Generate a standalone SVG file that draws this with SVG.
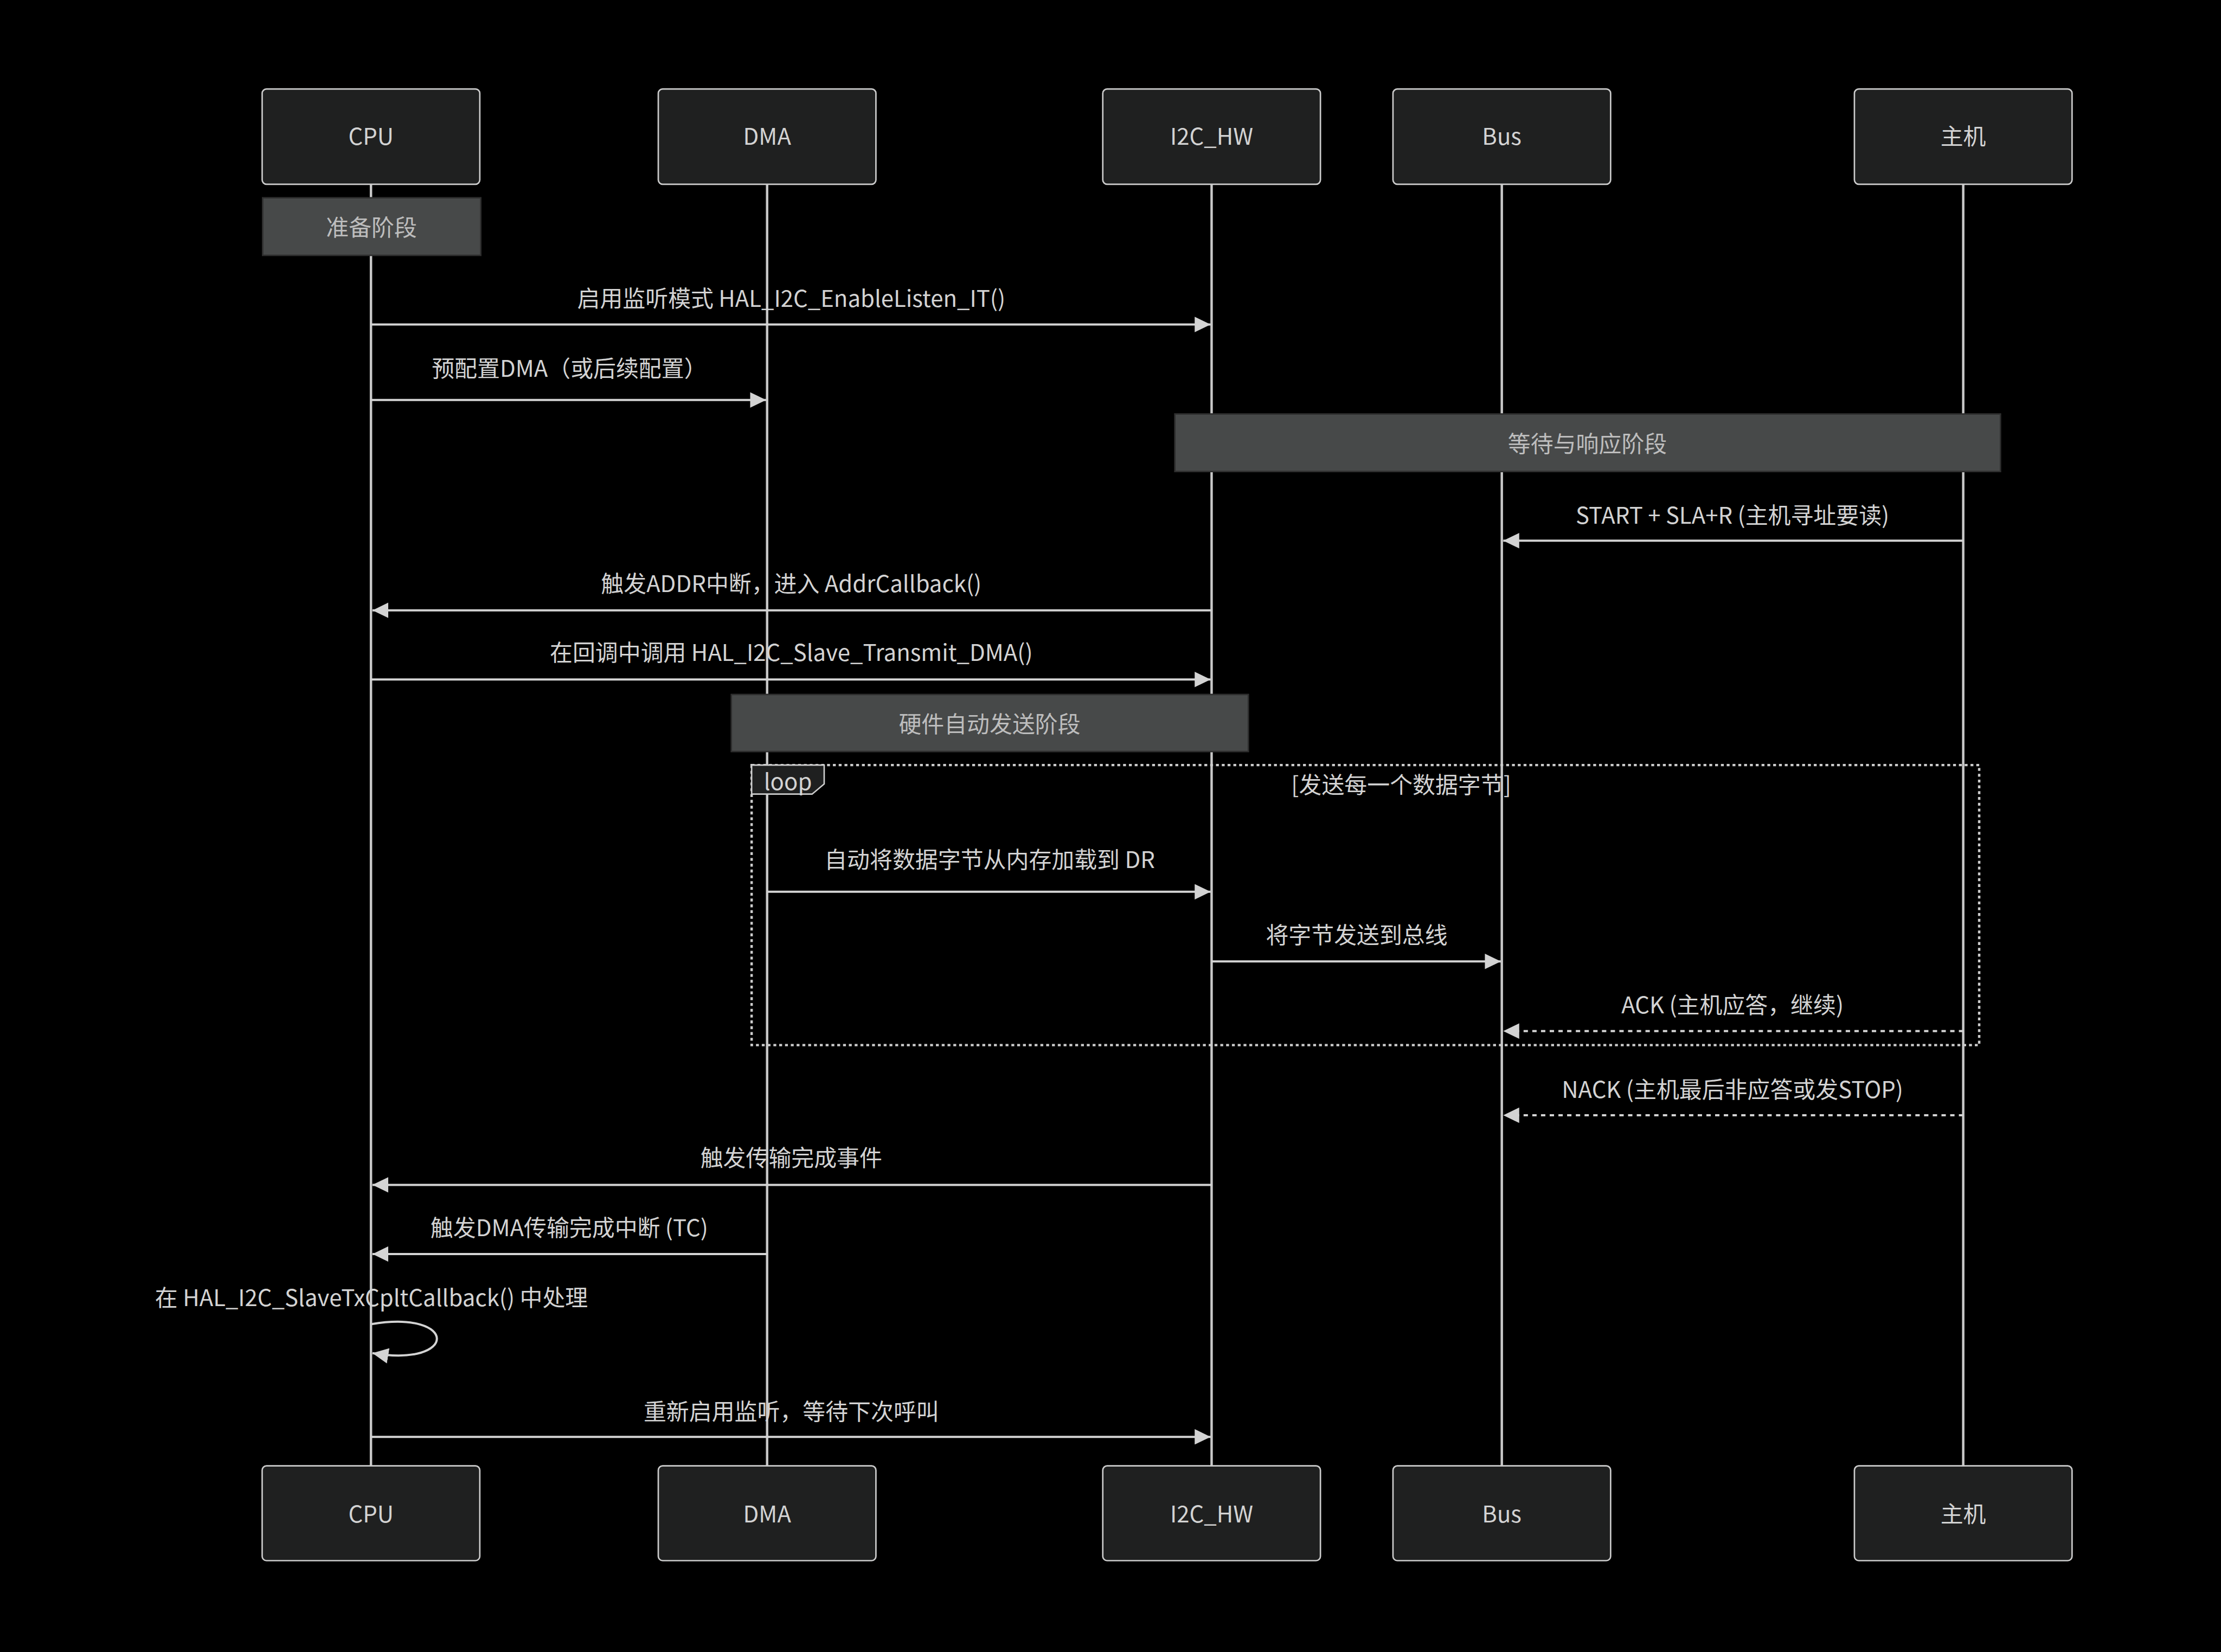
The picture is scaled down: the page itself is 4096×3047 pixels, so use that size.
<svg xmlns="http://www.w3.org/2000/svg" width="4096" height="3047" viewBox="0 0 4096 3047">
<defs>
<style>
.actor rect{fill:#1f2020;stroke:#cccccc;stroke-width:3}
.actor text{fill:#d3d3d3}
text{font-family:"Noto Sans CJK SC","Noto Sans",sans-serif;font-size:47px;text-anchor:middle;dominant-baseline:central}
.life{stroke:#c8c8c8;stroke-width:5}
.msg{stroke:#d3d3d3;stroke-width:4.5;fill:none;marker-end:url(#arr)}
.dash{stroke-dasharray:9 9}
.mtext{fill:#d3d3d3}
.note rect{fill:#474949;stroke:#2e2e2e;stroke-width:3}
.note text{fill:#bdbdbd}
.loopline{fill:none;stroke:#cccccc;stroke-width:5;stroke-dasharray:6 6}
.labelbox{fill:#1f2020;stroke:#cccccc;stroke-width:3}
</style>
<marker id="arr" markerUnits="userSpaceOnUse" viewBox="0 0 33 32" refX="33" refY="16" markerWidth="33" markerHeight="32" orient="auto">
<path d="M0,0 L33,16 L0,32 z" fill="#d3d3d3"/>
</marker>
</defs>
<rect x="0" y="0" width="4096" height="3047" fill="#000000"/>
<g transform="scale(0.892)">
<g id="lifelines">
<line class="life" x1="767" y1="381" x2="767" y2="3031"/>
<line class="life" x1="1586" y1="381" x2="1586" y2="3031"/>
<line class="life" x1="2505" y1="381" x2="2505" y2="3031"/>
<line class="life" x1="3105" y1="381" x2="3105" y2="3031"/>
<line class="life" x1="4059" y1="381" x2="4059" y2="3031"/>
</g>
<g id="actor-cpu-top" class="actor"><rect x="542" y="184" width="450" height="197" rx="9"/><text x="767" y="279">CPU</text></g>
<g id="actor-dma-top" class="actor"><rect x="1361" y="184" width="450" height="197" rx="9"/><text x="1586" y="279">DMA</text></g>
<g id="actor-i2c-top" class="actor"><rect x="2280" y="184" width="450" height="197" rx="9"/><text x="2505" y="279">I2C_HW</text></g>
<g id="actor-bus-top" class="actor"><rect x="2880" y="184" width="450" height="197" rx="9"/><text x="3105" y="279">Bus</text></g>
<g id="actor-host-top" class="actor"><rect x="3834" y="184" width="450" height="197" rx="9"/><text x="4059" y="279">主机</text></g>
<g id="actor-cpu-bottom" class="actor"><rect x="542" y="3031" width="450" height="196" rx="9"/><text x="767" y="3127">CPU</text></g>
<g id="actor-dma-bottom" class="actor"><rect x="1361" y="3031" width="450" height="196" rx="9"/><text x="1586" y="3127">DMA</text></g>
<g id="actor-i2c-bottom" class="actor"><rect x="2280" y="3031" width="450" height="196" rx="9"/><text x="2505" y="3127">I2C_HW</text></g>
<g id="actor-bus-bottom" class="actor"><rect x="2880" y="3031" width="450" height="196" rx="9"/><text x="3105" y="3127">Bus</text></g>
<g id="actor-host-bottom" class="actor"><rect x="3834" y="3031" width="450" height="196" rx="9"/><text x="4059" y="3127">主机</text></g>
<g id="note-prep" class="note"><rect x="543" y="409" width="451" height="119"/><text x="768" y="467">准备阶段</text></g>
<g id="note-wait" class="note"><rect x="2429" y="856" width="1707" height="119"/><text x="3282" y="914">等待与响应阶段</text></g>
<g id="note-hw" class="note"><rect x="1512" y="1436" width="1069" height="118"/><text x="2046" y="1494">硬件自动发送阶段</text></g>
<g id="loop">
<rect class="loopline" x="1554" y="1582" width="2538" height="579"/>
<polygon class="labelbox" points="1554,1582 1704,1582 1704,1621 1679,1642 1554,1642"/>
<text class="mtext" x="1629" y="1613">loop</text>
<text class="mtext" x="2897" y="1619">[发送每一个数据字节]</text>
</g>
<g id="connectors">
<line class="msg" x1="767" y1="671" x2="2503" y2="671"/>
<line class="msg" x1="767" y1="827" x2="1584" y2="827"/>
<line class="msg" x1="4059" y1="1118" x2="3108" y2="1118"/>
<line class="msg" x1="2505" y1="1262" x2="770" y2="1262"/>
<line class="msg" x1="767" y1="1405" x2="2503" y2="1405"/>
<line class="msg" x1="1586" y1="1844" x2="2503" y2="1844"/>
<line class="msg" x1="2505" y1="1988" x2="3103" y2="1988"/>
<line class="msg dash" x1="4059" y1="2132" x2="3108" y2="2132"/>
<line class="msg dash" x1="4059" y1="2306" x2="3108" y2="2306"/>
<line class="msg" x1="2505" y1="2450" x2="770" y2="2450"/>
<line class="msg" x1="1586" y1="2593" x2="770" y2="2593"/>
<path class="msg" d="M768,2738 C948,2708 948,2828 770,2798"/>
<line class="msg" x1="767" y1="2971" x2="2503" y2="2971"/>
</g>
<g id="message-labels" class="mtext">
<text class="mtext" x="1636" y="614">启用监听模式 HAL_I2C_EnableListen_IT()</text>
<text class="mtext" x="1177" y="758">预配置DMA（或后续配置）</text>
<text class="mtext" x="3582" y="1062">START + SLA+R (主机寻址要读)</text>
<text class="mtext" x="1636" y="1203">触发ADDR中断，进入 AddrCallback()</text>
<text class="mtext" x="1636" y="1346">在回调中调用 HAL_I2C_Slave_Transmit_DMA()</text>
<text class="mtext" x="2046" y="1774">自动将数据字节从内存加载到 DR</text>
<text class="mtext" x="2805" y="1930">将字节发送到总线</text>
<text class="mtext" x="3582" y="2075">ACK (主机应答，继续)</text>
<text class="mtext" x="3582" y="2250">NACK (主机最后非应答或发STOP)</text>
<text class="mtext" x="1636" y="2391">触发传输完成事件</text>
<text class="mtext" x="1177" y="2535">触发DMA传输完成中断 (TC)</text>
<text class="mtext" x="768" y="2680">在 HAL_I2C_SlaveTxCpltCallback() 中处理</text>
<text class="mtext" x="1636" y="2915">重新启用监听，等待下次呼叫</text>
</g>
</g>
</svg>
